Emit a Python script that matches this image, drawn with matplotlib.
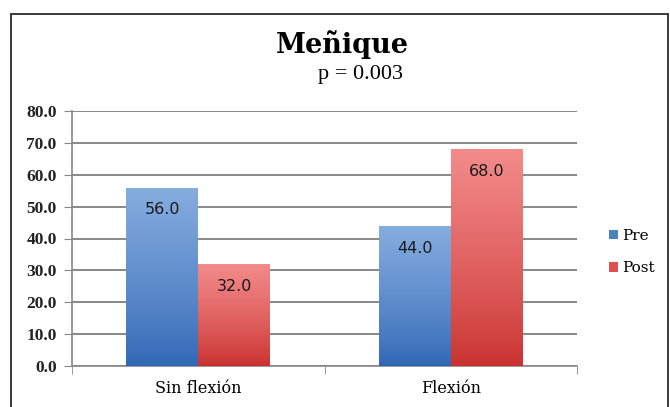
import numpy as np
import matplotlib.pyplot as plt
from matplotlib.patches import Patch, Rectangle
from matplotlib.colors import LinearSegmentedColormap

# Datos
categorias = ["Sin flexión", "Flexión"]
series = ["Pre", "Post"]
pre = [56.0, 44.0]
post = [32.0, 68.0]
yticks = np.arange(0, 81, 10)

# Degradados (arriba claro -> abajo oscuro)
grad_colores = {
    "Pre": ("#86addf", "#2f66b4"),
    "Post": ("#f38b8b", "#c8302d"),
}
color_leyenda = {"Pre": "#4f81bd", "Post": "#e05050"}

fig = plt.figure(figsize=(6.7, 4.07), dpi=100)
ax = fig.add_axes([72 / 670, 41 / 407, 505 / 670, 255 / 407])

x = np.arange(len(categorias))
ancho = 0.285
grad = np.linspace(0, 1, 256) ** 0.8
grad = grad.reshape(-1, 1)

for i, (nombre, vals) in enumerate(zip(series, [pre, post])):
    pos = x + (i - 0.5) * ancho
    barras = ax.bar(pos, vals, width=ancho, color="none", edgecolor="none", zorder=3)
    cmap = LinearSegmentedColormap.from_list(nombre, grad_colores[nombre][::-1])
    for b, v in zip(barras, vals):
        im = ax.imshow(grad, cmap=cmap, origin="lower", aspect="auto",
                       extent=[b.get_x(), b.get_x() + b.get_width(), 0, v], zorder=3)
        im.set_clip_path(b)
        ax.text(b.get_x() + b.get_width() / 2, v - 7, f"{v:.1f}",
                ha="center", va="center", fontsize=11.5,
                family="DejaVu Sans", color="#1a1a1a", zorder=4)

ax.set_xlim(-0.5, 1.5)
ax.set_ylim(0, 80)
ax.set_yticks(yticks)
ax.set_yticklabels([f"{t:.1f}" for t in yticks], fontsize=12.5, family="Liberation Serif",
                   fontweight="bold", color="#222222")
ax.set_xticks(x)
ax.set_xticklabels(categorias, fontsize=11.5, family="DejaVu Serif")
ax.tick_params(axis="x", length=0, pad=10)
ax.tick_params(axis="y", length=6, color="#888888", direction="out", pad=5)

# ticks menores en el eje x en los límites de categoría
ax.set_xticks([-0.5, 0.5, 1.5], minor=True)
ax.tick_params(axis="x", which="minor", length=6, color="#888888", direction="out")

ax.grid(axis="y", color="#7f7f7f", linewidth=1.3, zorder=0)
ax.set_axisbelow(True)
for lado in ["top", "right"]:
    ax.spines[lado].set_visible(False)
for lado in ["left", "bottom"]:
    ax.spines[lado].set_color("#888888")
    ax.spines[lado].set_linewidth(1.2)

fig.text(342 / 670, 1 - 45 / 407, "Meñique", ha="center", va="center",
         fontsize=19.5, fontweight="bold", family="DejaVu Serif")
fig.text(360 / 670, 1 - 75 / 407, "p = 0.003", ha="center", va="center",
         fontsize=16, family="Liberation Serif")

handles = [Patch(facecolor=color_leyenda[s], edgecolor="none") for s in series]
fig.legend(handles, series, loc="center left", bbox_to_anchor=(595 / 670, 1 - 252 / 407),
           frameon=False, handlelength=0.6, handleheight=0.6, handletextpad=0.3,
           labelspacing=1.2, prop={"family": "DejaVu Serif", "size": 11})

# Marco exterior
fig.patches.append(Rectangle((11 / 670, -0.02), 657 / 670, 1 - 14 / 407 + 0.02,
                             transform=fig.transFigure, fill=False,
                             edgecolor="#3a3a3a", linewidth=1.4))

fig.savefig("out.png", dpi=100)
